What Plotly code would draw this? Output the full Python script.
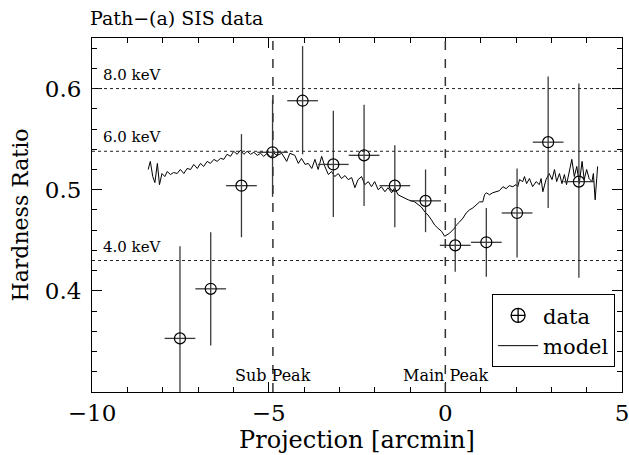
import numpy as np
import plotly.graph_objects as go

# ---- data points (projection, hardness ratio, error bounds) ----
data_x = [-7.51, -6.64, -5.77, -4.89, -4.04, -3.17, -2.30, -1.43, -0.56, 0.28, 1.16, 2.03, 2.91, 3.78]
data_y = [0.353, 0.402, 0.504, 0.537, 0.588, 0.525, 0.534, 0.504, 0.489, 0.445, 0.448, 0.477, 0.547, 0.508]
data_y_hi = [0.444, 0.458, 0.555, 0.589, 0.642, 0.578, 0.584, 0.544, 0.520, 0.472, 0.482, 0.521, 0.612, 0.605]
data_y_lo = [0.250, 0.346, 0.453, 0.493, 0.535, 0.473, 0.484, 0.463, 0.458, 0.419, 0.414, 0.433, 0.482, 0.413]
data_x_err = [0.435] * len(data_x)

# ---- model curve ----
model_x = [
    -8.41, -8.35, -8.28, -8.22, -8.15, -8.09, -8.02, -7.94, -7.87, -7.78, -7.69, -7.59, -7.50, -7.40,
    -7.31, -7.21, -7.12, -7.02, -6.93, -6.84, -6.74, -6.65, -6.55, -6.46, -6.36, -6.27, -6.18, -6.08,
    -5.99, -5.89, -5.80, -5.70, -5.61, -5.51, -5.42, -5.32, -5.23, -5.14, -5.04, -4.95, -4.85, -4.76,
    -4.63, -4.49, -4.40, -4.26, -4.16, -4.07, -3.97, -3.88, -3.78, -3.69, -3.60, -3.50, -3.41, -3.31,
    -3.22, -3.13, -3.03, -2.94, -2.84, -2.75, -2.65, -2.56, -2.47, -2.37, -2.28, -2.18, -2.09, -2.00,
    -1.90, -1.81, -1.71, -1.62, -1.52, -1.43, -1.34, -1.24, -1.05, -0.87, -0.68, -0.58, -0.49, -0.39,
    -0.30, -0.21, -0.11, -0.02, 0.03, 0.12, 0.26, 0.31, 0.40, 0.50, 0.59, 0.68, 0.78, 0.87, 0.97,
    1.06, 1.11, 1.16, 1.25, 1.34, 1.44, 1.53, 1.63, 1.72, 1.81, 1.91, 2.00, 2.05, 2.10, 2.19, 2.24,
    2.30, 2.38, 2.47, 2.57, 2.66, 2.71, 2.76, 2.85, 2.94, 3.02, 3.09, 3.15, 3.23, 3.30, 3.37, 3.43,
    3.51, 3.58, 3.65, 3.72, 3.79, 3.87, 3.93, 4.00, 4.07, 4.15, 4.19, 4.24, 4.31,
]
model_y = [
    0.520, 0.528, 0.513, 0.507, 0.526, 0.505, 0.516, 0.513, 0.518, 0.515, 0.517, 0.516, 0.520, 0.516,
    0.521, 0.520, 0.525, 0.521, 0.526, 0.523, 0.528, 0.526, 0.530, 0.528, 0.531, 0.530, 0.535, 0.533,
    0.538, 0.535, 0.539, 0.535, 0.538, 0.535, 0.537, 0.534, 0.536, 0.533, 0.536, 0.532, 0.536, 0.534,
    0.536, 0.528, 0.536, 0.534, 0.526, 0.531, 0.525, 0.526, 0.521, 0.530, 0.520, 0.533, 0.523, 0.515,
    0.518, 0.513, 0.516, 0.511, 0.514, 0.510, 0.512, 0.502, 0.510, 0.513, 0.505, 0.508, 0.503, 0.508,
    0.500, 0.503, 0.498, 0.502, 0.497, 0.502, 0.495, 0.493, 0.490, 0.488, 0.483, 0.478, 0.475, 0.470,
    0.465, 0.462, 0.459, 0.454, 0.455, 0.457, 0.462, 0.465, 0.468, 0.472, 0.477, 0.480, 0.482, 0.485,
    0.488, 0.488, 0.495, 0.497, 0.495, 0.497, 0.498, 0.499, 0.503, 0.501, 0.504, 0.503, 0.505, 0.503,
    0.510, 0.508, 0.513, 0.506, 0.511, 0.503, 0.508, 0.505, 0.511, 0.498, 0.510, 0.516, 0.510, 0.520,
    0.508, 0.516, 0.506, 0.515, 0.505, 0.520, 0.530, 0.513, 0.523, 0.506, 0.528, 0.510, 0.520, 0.511,
    0.508, 0.516, 0.490, 0.523,
]

# ---- reference lines ----
energy_levels = [0.600, 0.538, 0.430]
energy_labels = ["8.0 keV", "6.0 keV", "4.0 keV"]
peak_x = [-4.88, 0.0]
peak_labels = ["Sub Peak", "Main Peak"]

x_ticks = [-10, -5, 0, 5]
x_ticktext = ["\u221210", "\u22125", "0", "5"]
y_ticks = [0.4, 0.5, 0.6]
y_ticktext = ["0.4", "0.5", "0.6"]

FONT = "DejaVu Serif"

y_arr = np.array(data_y)
err_plus = np.array(data_y_hi) - y_arr
err_minus = y_arr - np.array(data_y_lo)

fig = go.Figure()

fig.add_trace(go.Scatter(
    x=model_x, y=model_y, mode="lines",
    line=dict(color="black", width=1),
    name="model", showlegend=False,
))

fig.add_trace(go.Scatter(
    x=data_x, y=data_y, mode="markers",
    marker=dict(symbol="circle-open", size=11, color="black", line=dict(width=1.2)),
    error_y=dict(type="data", symmetric=False, array=err_plus, arrayminus=err_minus,
                 width=0, thickness=1.3, color="#3a3a3a"),
    error_x=dict(type="data", array=data_x_err, width=0, thickness=1.3, color="#3a3a3a"),
    name="data", showlegend=False,
))

# legend-only entries
fig.add_trace(go.Scatter(
    x=[None], y=[None], mode="markers",
    marker=dict(symbol="circle-cross-open", size=14, color="black", line=dict(width=1.3)),
    name="data",
))
fig.add_trace(go.Scatter(
    x=[None], y=[None], mode="lines",
    line=dict(color="black", width=1),
    name="model",
))

for lvl, lab in zip(energy_levels, energy_labels):
    fig.add_shape(type="line", xref="paper", x0=0, x1=1, yref="y", y0=lvl, y1=lvl,
                  line=dict(color="#222", width=1, dash="dot"))
    fig.add_annotation(x=-9.75, y=lvl, xref="x", yref="y", text=lab, showarrow=False,
                       xanchor="left", yanchor="bottom", yshift=3,
                       font=dict(family=FONT, size=15, color="black"))

for px, lab in zip(peak_x, peak_labels):
    fig.add_shape(type="line", xref="x", x0=px, x1=px, yref="paper", y0=0, y1=1,
                  line=dict(color="#333", width=1.5, dash="dash"))
    fig.add_annotation(x=px, y=0.3, xref="x", yref="y", text=lab, showarrow=False,
                       xanchor="center", yanchor="bottom", yshift=5,
                       font=dict(family=FONT, size=16, color="black"))

fig.update_layout(
    width=629, height=455,
    margin=dict(l=92, r=7, t=38, b=63),
    paper_bgcolor="white", plot_bgcolor="white",
    font=dict(family=FONT, color="black"),
    title=dict(text="Path\u2212(a) SIS data", x=90 / 629, xanchor="left", y=1 - 18 / 455,
               yanchor="middle", font=dict(family=FONT, size=19, color="black")),
    legend=dict(x=0.987, y=0.07, xanchor="right", yanchor="bottom",
                bordercolor="black", borderwidth=1, bgcolor="white",
                font=dict(family=FONT, size=21, color="black"),
                itemwidth=40, tracegroupgap=0),
    showlegend=True,
)

fig.update_xaxes(
    range=[-10, 5], tickmode="array", tickvals=x_ticks, ticktext=x_ticktext,
    ticks="inside", ticklen=10, tickwidth=1, tickcolor="black",
    minor=dict(ticks="inside", ticklen=5, tickwidth=1, tickcolor="black", tick0=0, dtick=1),
    showline=True, linecolor="black", linewidth=1, mirror="ticks",
    showgrid=False, zeroline=False, automargin=False, ticklabeloverflow="allow",
    tickfont=dict(family=FONT, size=23, color="black"),
    title=dict(text="Projection [arcmin]", font=dict(family=FONT, size=24, color="black"), standoff=2),
)
fig.update_yaxes(
    range=[0.3, 0.65], tickmode="array", tickvals=y_ticks, ticktext=y_ticktext,
    ticks="inside", ticklen=10, tickwidth=1, tickcolor="black",
    minor=dict(ticks="inside", ticklen=5, tickwidth=1, tickcolor="black", tick0=0.3, dtick=0.02),
    showline=True, linecolor="black", linewidth=1, mirror="ticks",
    showgrid=False, zeroline=False, automargin=False, ticklabelstandoff=5,
    tickfont=dict(family=FONT, size=23, color="black"),
    title=dict(text="Hardness Ratio", font=dict(family=FONT, size=22, color="black"), standoff=10),
)

fig.write_html("out.html")
